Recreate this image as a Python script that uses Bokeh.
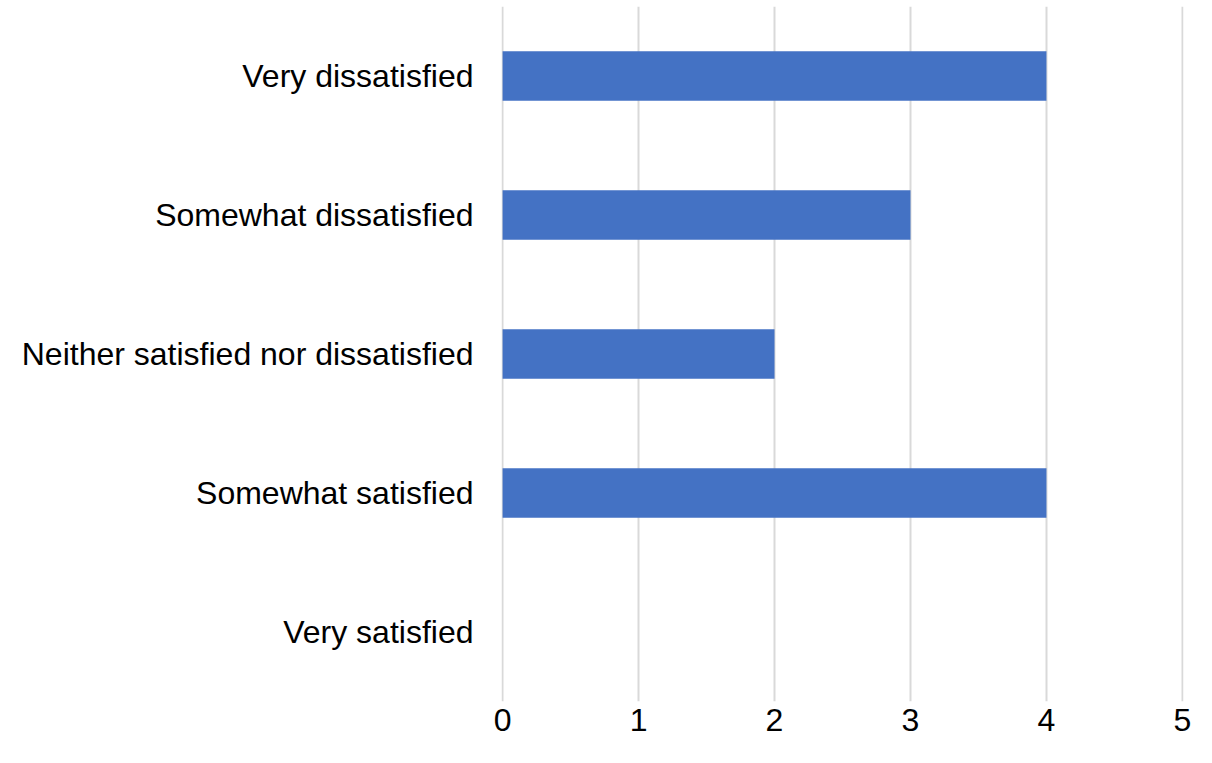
from bokeh.plotting import figure
from bokeh.models import FactorRange, Range1d, FixedTicker
from bokeh.embed import file_html
from bokeh.resources import INLINE

categories = ["Very dissatisfied", "Somewhat dissatisfied",
              "Neither satisfied nor dissatisfied", "Somewhat satisfied",
              "Very satisfied"]
counts = [4, 3, 2, 4, 0]
x_ticks = [0, 1, 2, 3, 4, 5]

p = figure(width=1196, height=747,
           y_range=FactorRange(factors=list(reversed(categories))),
           x_range=Range1d(-0.008, 5.008),
           output_backend="svg", toolbar_location=None,
           min_border_left=501, min_border_right=13,
           min_border_top=6, min_border_bottom=46)

p.hbar(y=categories, left=0, right=counts, height=0.357,
       fill_color="#4472C4", line_color=None)

p.outline_line_color = None
p.background_fill_color = "white"
p.ygrid.grid_line_color = None
p.xgrid.grid_line_color = "#D9D9D9"
p.xgrid.grid_line_width = 2
p.xaxis.ticker = FixedTicker(ticks=x_ticks)

for ax in (p.xaxis, p.yaxis):
    ax.axis_line_color = None
    ax.major_tick_line_color = None
    ax.minor_tick_line_color = None
    ax.major_tick_in = 0
    ax.major_tick_out = 0
    ax.minor_tick_in = 0
    ax.minor_tick_out = 0
    ax.major_label_text_font = "Liberation Sans"
    ax.major_label_text_font_size = "32px"
    ax.major_label_text_color = "black"

p.yaxis.major_label_standoff = 28
p.xaxis.major_label_standoff = 7

open("out.html", "w").write(file_html(p, INLINE))
